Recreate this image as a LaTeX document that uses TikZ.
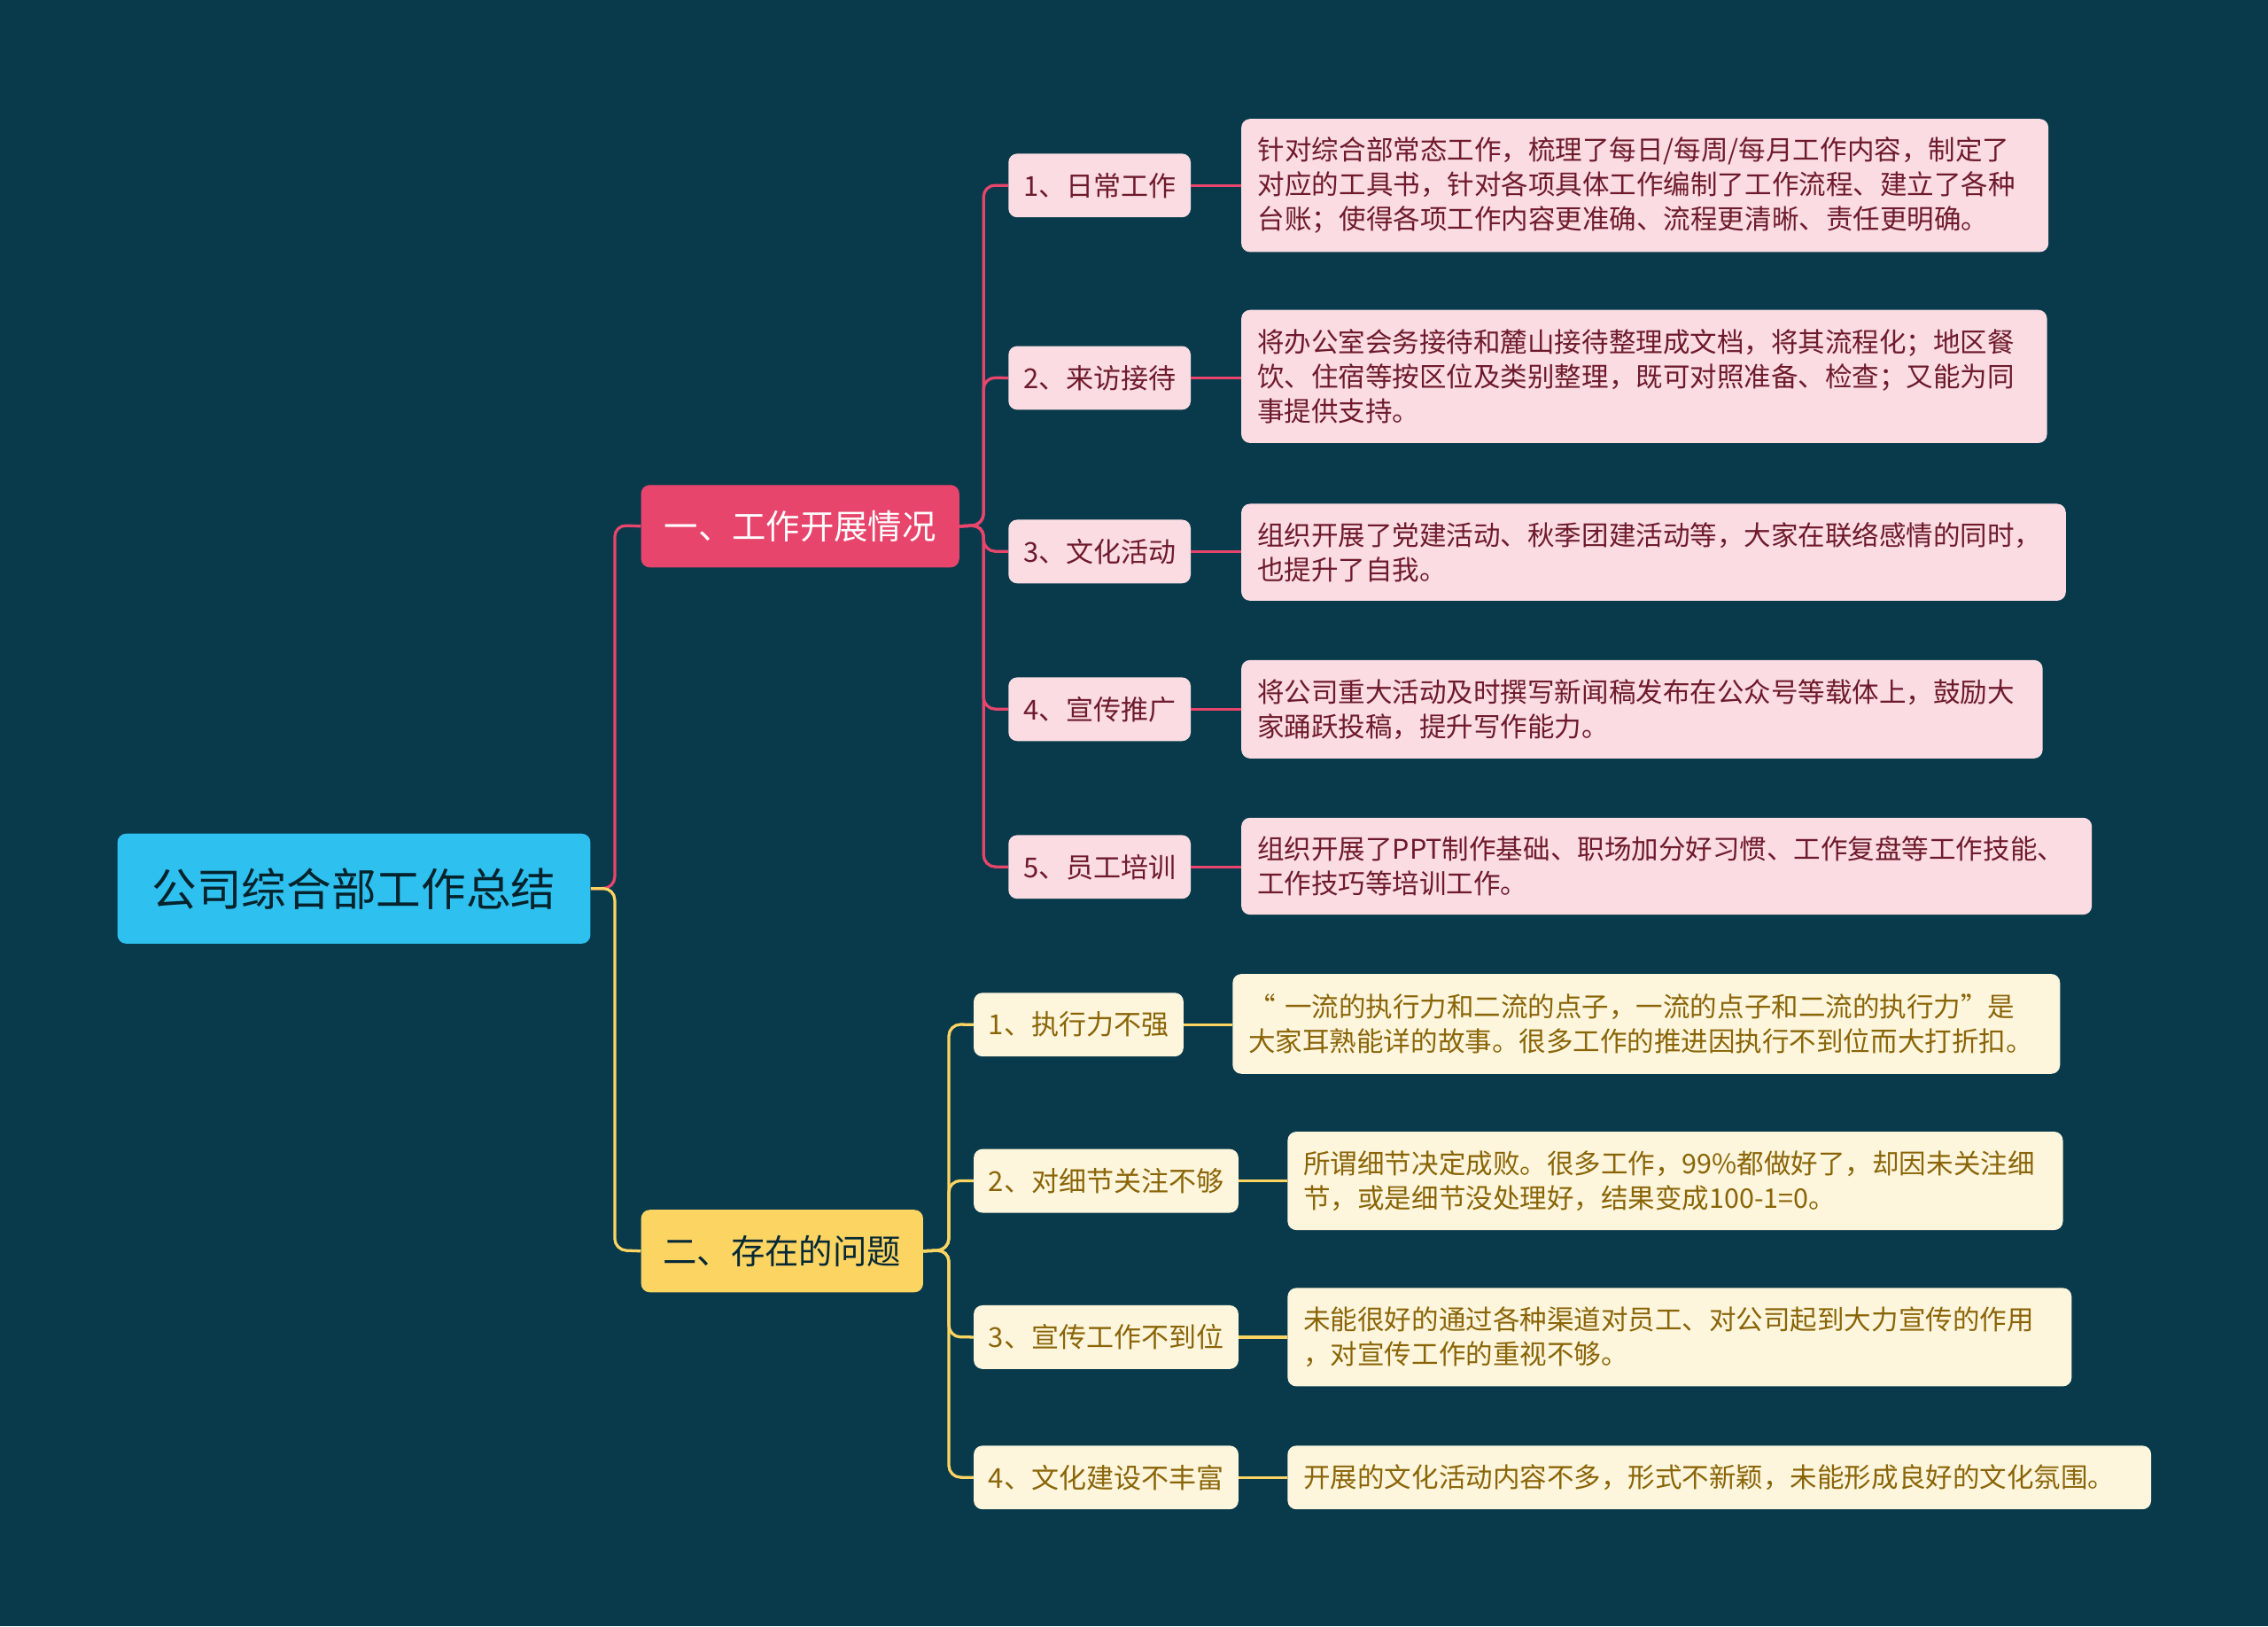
\documentclass[tikz,border=0pt]{standalone}
\usepackage{fontspec}
\setmainfont{Noto Sans CJK SC}
\definecolor{bg}{HTML}{083A4B}
\definecolor{rootc}{HTML}{2EC0EE}
\definecolor{pk}{HTML}{E8456C}
\definecolor{lpk}{HTML}{FADCE2}
\definecolor{pktx}{HTML}{6E1A2C}
\definecolor{yl}{HTML}{FCD462}
\definecolor{lyl}{HTML}{FDF6DD}
\definecolor{yltx}{HTML}{8A6508}
\tikzset{
 bx/.style={anchor=north west,rounded corners=6pt,inner sep=0pt,align=left},
 lfA/.style={bx,fill=lpk,text=pktx,font=\fontsize{18.7}{24}\selectfont},
 lfB/.style={bx,fill=lyl,text=yltx,font=\fontsize{18.7}{24}\selectfont},
 lnA/.style={draw=pk,line width=2pt,rounded corners=8pt},
 lnB/.style={draw=yl,line width=2pt,rounded corners=8pt},
}
\newcommand{\bxn}[7]{\node[#1,minimum width=#4pt,minimum height=#5pt,text width=#6pt] (#2) at #3 {\hspace*{10pt}#7};}
\begin{document}
\begin{tikzpicture}[x=1pt,y=-1pt]
\fill[bg] (0,0) rectangle (1568,1124);
\useasboundingbox (0,0) rectangle (1568,1124);
\node[bx,fill=rootc,text=bg!60!black,minimum width=327pt,minimum height=76pt,align=center,font=\fontsize{31}{36}\selectfont] (root) at (81,576) {公司综合部工作总结};
\node[bx,fill=pk,text=white,minimum width=220pt,minimum height=57pt,align=center,font=\fontsize{23.5}{28}\selectfont] (A) at (443,335) {一、工作开展情况};
\node[bx,fill=yl,text=bg!70!black,minimum width=195pt,minimum height=57pt,align=center,font=\fontsize{23.5}{28}\selectfont] (B) at (443,836) {二、存在的问题};
% A children
\foreach \n/\y/\t in {a1/106/1、日常工作, a2/239/2、来访接待, a3/359/3、文化活动, a4/468/4、宣传推广, a5/577/5、员工培训}{
 \node[lfA,font=\fontsize{19}{24}\selectfont,minimum width=126pt,minimum height=44pt,align=center] (\n) at (697,\y) {\t};
 \draw[lnA] (A.east) -- (680,363) -- (680,\y+22) -- (\n.west);
}
\bxn{lfA}{d1}{(858,82)}{558}{92}{555}{针对综合部常态工作，梳理了每日/每周/每月工作内容，制定了\\\hspace*{10pt}对应的工具书，针对各项具体工作编制了工作流程、建立了各种\\\hspace*{10pt}台账；使得各项工作内容更准确、流程更清晰、责任更明确。}
\bxn{lfA}{d2}{(858,214)}{557}{92}{555}{将办公室会务接待和麓山接待整理成文档，将其流程化；地区餐\\\hspace*{10pt}饮、住宿等按区位及类别整理，既可对照准备、检查；又能为同\\\hspace*{10pt}事提供支持。}
\bxn{lfA}{d3}{(858,348)}{570}{67}{568}{组织开展了党建活动、秋季团建活动等，大家在联络感情的同时，\\\hspace*{10pt}也提升了自我。}
\bxn{lfA}{d4}{(858,456)}{554}{68}{552}{将公司重大活动及时撰写新闻稿发布在公众号等载体上，鼓励大\\\hspace*{10pt}家踊跃投稿，提升写作能力。}
\bxn{lfA}{d5}{(858,565)}{588}{67}{586}{组织开展了PPT制作基础、职场加分好习惯、工作复盘等工作技能、\\\hspace*{10pt}工作技巧等培训工作。}
\foreach \i in {1,...,5}{\draw[lnA] (a\i.east) -- (d\i.west |- a\i.east);}
% B children
\foreach \n/\y/\w/\t in {b1/686/145/1、执行力不强, b2/794/183/2、对细节关注不够, b3/902/183/3、宣传工作不到位, b4/999/183/4、文化建设不丰富}{
 \node[lfB,font=\fontsize{19}{24}\selectfont,minimum width=\w pt,minimum height=44pt,align=center] (\n) at (673,\y) {\t};
 \draw[lnB] (B.east) -- (656,864) -- (656,\y+22) -- (\n.west);
}
\bxn{lfB}{e1}{(852,673)}{572}{69}{570}{“ 一流的执行力和二流的点子，一流的点子和二流的执行力”是\\\hspace*{10pt}大家耳熟能详的故事。很多工作的推进因执行不到位而大打折扣。}
\bxn{lfB}{e2}{(890,782)}{536}{68}{534}{所谓细节决定成败。很多工作，99\%都做好了，却因未关注细\\\hspace*{10pt}节，或是细节没处理好，结果变成100-1=0。}
\bxn{lfB}{e3}{(890,890)}{542}{68}{540}{未能很好的通过各种渠道对员工、对公司起到大力宣传的作用\\\hspace*{10pt}，对宣传工作的重视不够。}
\bxn{lfB}{e4}{(890,999)}{597}{44}{595}{开展的文化活动内容不多，形式不新颖，未能形成良好的文化氛围。}
\foreach \i in {1,...,4}{\draw[lnB] (b\i.east) -- (e\i.west |- b\i.east);}
% root connectors
\draw[lnA] (root.east) -- (425,614) -- (425,363) -- (A.west);
\draw[lnB] (root.east) -- (425,614) -- (425,864) -- (B.west);
\end{tikzpicture}
\end{document}
